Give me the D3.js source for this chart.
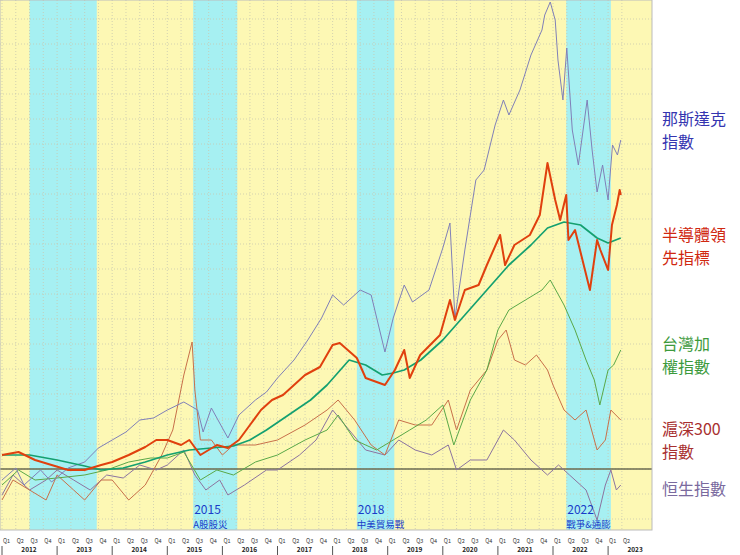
<!DOCTYPE html>
<html><head><meta charset="utf-8">
<script src="https://cdn.jsdelivr.net/npm/d3@7"></script>
<style>body{margin:0;background:#fff;}svg{display:block;font-family:"Noto Sans CJK TC","Noto Sans",sans-serif;}</style>
</head><body>
<svg id="c" width="740" height="555"></svg>
<script>
// cumulative return index (relative units, 0 = start level)
const nasdaqT=[2012.0,2012.25,2012.4,2012.7,2012.9,2013.2,2013.5,2013.75,2014.0,2014.25,2014.5,2014.75,2015.0,2015.3,2015.55,2015.65,2015.8,2016.1,2016.3,2016.6,2016.8,2017.0,2017.3,2017.55,2017.8,2018.0,2018.2,2018.5,2018.7,2018.95,2019.1,2019.3,2019.45,2019.75,2020.0,2020.13,2020.22,2020.4,2020.6,2020.75,2020.95,2021.1,2021.2,2021.4,2021.6,2021.8,2021.85,2021.95,2022.04,2022.09,2022.18,2022.25,2022.35,2022.46,2022.62,2022.71,2022.8,2022.9,2023.0,2023.08,2023.17,2023.23];
const nasdaqV=[-11,1,-16,-1,-13,1,7,21,29,37,49,51,59,67,59,37,61,31,54,69,77,91,109,129,151,174,164,179,174,117,151,184,167,179,221,246,151,219,289,299,344,369,354,379,414,439,454,467,449,409,369,421,339,304,369,319,277,304,269,324,314,329];
const soxT=[2012.0,2012.3,2012.6,2012.9,2013.2,2013.5,2013.8,2014.0,2014.3,2014.6,2014.8,2015.0,2015.25,2015.4,2015.6,2015.9,2016.1,2016.3,2016.5,2016.7,2016.9,2017.1,2017.3,2017.5,2017.77,2018.0,2018.13,2018.44,2018.6,2018.95,2019.13,2019.3,2019.4,2019.59,2019.95,2020.13,2020.22,2020.4,2020.65,2020.8,2021.04,2021.13,2021.3,2021.58,2021.76,2021.9,2022.04,2022.13,2022.24,2022.28,2022.4,2022.58,2022.67,2022.8,2022.86,2023.0,2023.07,2023.16,2023.21,2023.23];
const soxV=[14,17,9,4,-1,-1,4,7,14,22,29,29,24,29,14,24,21,29,44,59,69,74,84,94,102,124,126,111,91,84,99,119,91,114,134,169,149,179,184,204,234,204,224,234,254,306,269,249,274,229,239,199,179,229,219,199,244,264,279,274];
const maT=[2012.0,2012.5,2013.0,2013.5,2013.8,2014.2,2014.6,2015.0,2015.4,2015.8,2016.2,2016.5,2016.8,2017.2,2017.6,2017.9,2018.3,2018.6,2018.9,2019.1,2019.3,2019.6,2020.0,2020.4,2020.8,2021.2,2021.6,2021.9,2022.2,2022.5,2022.8,2023.0,2023.23];
const maV=[14,14,9,3,-1,1,7,14,19,21,23,29,39,54,69,84,109,104,94,96,99,109,129,154,179,204,224,241,247,244,231,226,231];
const twT=[2012.0,2012.3,2012.6,2013.0,2013.5,2013.9,2014.3,2014.7,2015.0,2015.3,2015.6,2015.9,2016.2,2016.6,2017.0,2017.5,2017.9,2018.1,2018.4,2018.8,2019.1,2019.4,2019.7,2020.0,2020.2,2020.5,2020.8,2021.0,2021.2,2021.5,2021.8,2021.95,2022.2,2022.4,2022.6,2022.75,2022.85,2023.0,2023.1,2023.23];
const twV=[-16,-1,-11,-9,-6,-1,7,11,11,17,-11,-1,-6,7,14,29,39,54,29,19,29,39,49,64,24,69,99,139,159,169,179,189,164,139,109,89,64,99,104,119];
const csiT=[2012.0,2012.2,2012.5,2012.8,2013.0,2013.3,2013.5,2013.8,2014.0,2014.3,2014.6,2014.9,2015.1,2015.3,2015.45,2015.5,2015.6,2015.8,2016.0,2016.2,2016.6,2017.0,2017.5,2017.9,2018.1,2018.4,2018.7,2018.95,2019.2,2019.5,2019.8,2020.1,2020.25,2020.5,2020.8,2021.0,2021.15,2021.3,2021.5,2021.7,2021.9,2022.0,2022.2,2022.4,2022.6,2022.8,2022.95,2023.05,2023.23];
const csiV=[-31,-11,-21,-31,-6,-21,-31,-11,-11,-31,-16,14,39,94,127,79,29,29,14,24,24,29,44,59,69,49,24,14,49,44,44,69,39,79,99,129,139,109,104,114,99,84,59,49,59,19,29,59,49];
const hsiT=[2012.0,2012.2,2012.5,2012.8,2013.0,2013.3,2013.6,2013.9,2014.2,2014.5,2014.8,2015.0,2015.3,2015.5,2015.7,2015.95,2016.1,2016.4,2016.8,2017.0,2017.4,2017.7,2018.0,2018.3,2018.6,2018.95,2019.2,2019.5,2019.8,2020.1,2020.25,2020.5,2020.8,2021.1,2021.3,2021.6,2021.9,2022.1,2022.3,2022.6,2022.8,2022.95,2023.05,2023.15,2023.23];
const hsiV=[-26,-6,-21,-11,-1,-11,-21,-6,-9,4,-1,4,19,-6,-21,-11,-26,-16,-1,-1,14,29,59,39,19,14,29,19,14,24,-1,9,9,39,29,9,-6,4,-6,-21,-51,-16,-1,-21,-16];
const bands=[[2012.5,2013.72],[2015.47,2016.27],[2018.44,2019.12],[2022.24,2023.05]];
const bandNotes=[["2015","A股股災",2015.47],["2018","中美貿易戰",2018.44],["2022","戰爭&通膨",2022.24]];
const years=[2012,2013,2014,2015,2016,2017,2018,2019,2020,2021,2022,2023];
const quarterLabels=["Q1","Q2","Q3","Q4"];
const legend=[["那斯達克","指數","#3535b0",125],["半導體領","先指標","#d02810",241],["台灣加","權指數","#3c9a3c",350],["滬深300","指數","#a83030",435],["恒生指數","","#7a6a9e",495]];

const svg=d3.select("#c");
const x=d3.scaleLinear().domain([2012,2023]).range([2,608.1]);
const y=d3.scaleLinear().domain([-61,469]).range([530,0]);
const L=0,R=652,T=0,B=530;
svg.append("rect").attr("x",L).attr("y",T).attr("width",R-L).attr("height",B-T).attr("fill","#fdf8b4");
bands.forEach(b=>svg.append("rect").attr("x",x(b[0])).attr("y",T).attr("width",x(b[1])-x(b[0])).attr("height",B-T).attr("fill","#a6f0f2"));
const qs=d3.range(2012,2023.5,0.25);
svg.append("g").selectAll("line").data(qs).join("line").attr("x1",d=>x(d)).attr("x2",d=>x(d)).attr("y1",T).attr("y2",B).attr("stroke","#c8c8b0").attr("stroke-dasharray","1,2").attr("stroke-width",0.8);
svg.append("g").selectAll("line").data(d3.range(-50,470,25)).join("line").attr("x1",L).attr("x2",R).attr("y1",d=>y(d)).attr("y2",d=>y(d)).attr("stroke","#c8c8b0").attr("stroke-dasharray","1,2").attr("stroke-width",0.8);
svg.append("line").attr("x1",L).attr("x2",R).attr("y1",y(0)).attr("y2",y(0)).attr("stroke","#6b6b50").attr("stroke-width",1.3);
const line=d3.line().x(d=>x(d[0])).y(d=>y(d[1]));
function draw(T_,V_,col,w){svg.append("path").datum(T_.map((t,i)=>[t,V_[i]])).attr("d",line).attr("fill","none").attr("stroke",col).attr("stroke-width",w).attr("stroke-linejoin","round");}
draw(hsiT,hsiV,"#8c74a0",1);
draw(csiT,csiV,"#c8704a",1);
draw(twT,twV,"#5aa848",1);
draw(nasdaqT,nasdaqV,"#8080b8",1);
draw(maT,maV,"#14a070",1.7);
draw(soxT,soxV,"#e0400e",2);
svg.append("rect").attr("x",L).attr("y",T).attr("width",R-L).attr("height",B-T).attr("fill","none").attr("stroke","#bbb");
bandNotes.forEach(n=>{
 svg.append("text").attr("x",x(n[2])+1).attr("y",514).attr("font-size",12).attr("fill","#1a3cc8").text(n[0]);
 svg.append("text").attr("x",x(n[2])).attr("y",528).attr("font-size",9.5).attr("fill","#1a3cc8").text(n[1]);
});
const ax=svg.append("g");
qs.forEach((q,i)=>{ax.append("text").attr("x",x(q)+1).attr("y",543).attr("font-size",5.5).attr("fill","#333").text(quarterLabels[i%4]);});
years.forEach(yr=>{
 ax.append("line").attr("x1",x(yr)).attr("x2",x(yr)).attr("y1",546).attr("y2",555).attr("stroke","#555");
 ax.append("text").attr("x",x(yr)+27).attr("y",552).attr("text-anchor","middle").attr("font-size",6.5).attr("font-weight","bold").attr("fill","#222").text(yr);
});
legend.forEach(l=>{
 svg.append("text").attr("x",662).attr("y",l[3]).attr("font-size",16).attr("fill",l[2]).text(l[0]);
 if(l[1])svg.append("text").attr("x",662).attr("y",l[3]+23).attr("font-size",16).attr("fill",l[2]).text(l[1]);
});
</script></body></html>
